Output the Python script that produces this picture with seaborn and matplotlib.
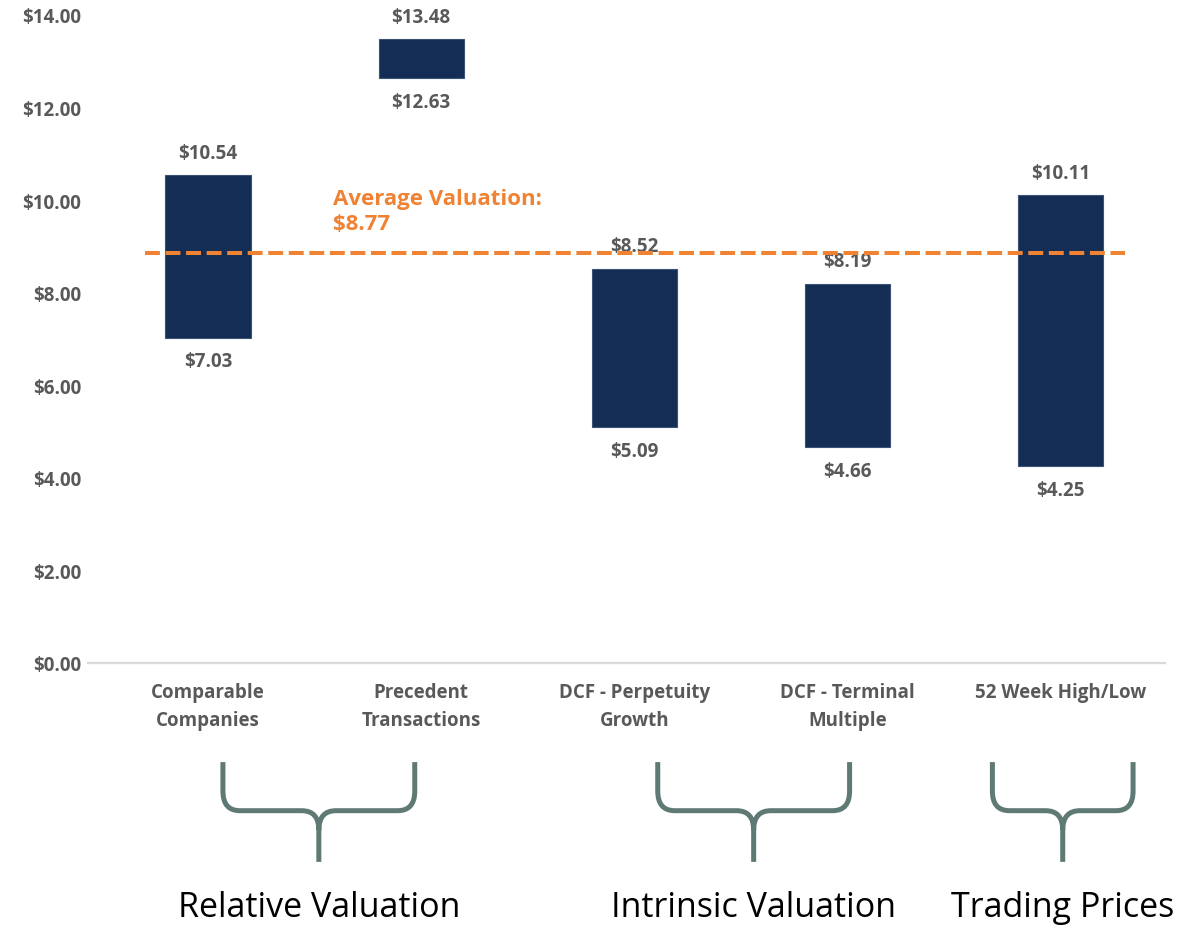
import numpy as np
import pandas as pd
import matplotlib
matplotlib.use("Agg")
import matplotlib.pyplot as plt
import seaborn as sns
from matplotlib.path import Path
from matplotlib.patches import PathPatch
from matplotlib.transforms import blended_transform_factory

# ---------------- data ----------------
categories = ["Comparable\nCompanies", "Precedent\nTransactions",
              "DCF - Perpetuity\nGrowth", "DCF - Terminal\nMultiple",
              "52 Week High/Low"]
lows  = [7.03, 12.63, 5.09, 4.66, 4.25]
highs = [10.54, 13.48, 8.52, 8.19, 10.11]

avg_label = "Average Valuation:\n$8.77"
avg_line  = 8.86

y_ticks = [0, 2, 4, 6, 8, 10, 12, 14]

group_names = ["Relative Valuation", "Intrinsic Valuation", "Trading Prices"]
group_left  = [0.07, 2.11, 3.68]    # brace extents in category units
group_right = [0.97, 3.01, 4.34]

# ---------------- style ----------------
NAVY   = "#142D55"
ORANGE = "#F08233"
GREY   = "#595959"
BRACE  = "#5F7A74"

sns.set_style("white")
plt.rcParams['font.family'] = ['Open Sans', 'DejaVu Sans']

df = pd.DataFrame({"cat": categories, "low": lows, "high": highs})
df["span"] = df["high"] - df["low"]

fig = plt.figure(figsize=(11.78, 9.29), dpi=100)
ax = fig.add_axes([0.0747, 0.2853, 0.9143, 0.6975])

sns.barplot(data=df, x="cat", y="span", bottom=df["low"].values,
            color=NAVY, saturation=1, width=0.40, ax=ax,
            edgecolor="#3B5275", linewidth=0.8)

ax.set_xlim(-0.563, 4.49)
ax.set_ylim(0, 14)
ax.set_yticks(y_ticks)
ax.set_yticklabels([f"${v:.2f}" for v in y_ticks])
ax.set_xlabel("")
ax.set_ylabel("")

for s in ["top", "right", "left"]:
    ax.spines[s].set_visible(False)
ax.spines["bottom"].set_color("#D9D9D9")
ax.spines["bottom"].set_linewidth(1.6)
ax.tick_params(axis="both", length=0, colors=GREY)
ax.tick_params(axis="y", pad=5, labelsize=13.5)
ax.tick_params(axis="x", pad=14, labelsize=13.5)
for lab in ax.get_xticklabels() + ax.get_yticklabels():
    lab.set_fontweight("bold")
    lab.set_color(GREY)
for lab in ax.get_xticklabels():
    lab.set_linespacing(1.5)

# value labels
for i, (lo, hi) in enumerate(zip(lows, highs)):
    ax.annotate(f"${hi:.2f}", (i, hi), xytext=(0, 9), textcoords="offset points",
                ha="center", va="bottom", fontsize=13.5, fontweight="bold",
                color=GREY, annotation_clip=False, zorder=2)
    ax.annotate(f"${lo:.2f}", (i, lo), xytext=(0, -10), textcoords="offset points",
                ha="center", va="top", fontsize=13.5, fontweight="bold",
                color=GREY, annotation_clip=False)

# average line
ax.plot([-0.296, 4.30], [avg_line, avg_line], color=ORANGE, lw=2.9,
        dashes=(3.7, 1.4), solid_capstyle="butt", zorder=3)
ax.text(0.587, 9.76, avg_label, color=ORANGE, fontsize=16, fontweight="bold",
        ha="left", va="center", linespacing=1.25)

# braces under the axis
trans = blended_transform_factory(ax.transData, ax.transAxes)
y_top, y_mid, y_bot = -0.153, -0.228, -0.307
for name, x0, x1 in zip(group_names, group_left, group_right):
    xc = (x0 + x1) / 2
    rx = 0.08
    ry = 0.03
    verts = [
        (x0, y_top), (x0, y_mid + ry),
        (x0, y_mid), (x0 + rx, y_mid),
        (xc - rx, y_mid),
        (xc, y_mid), (xc, y_mid - ry),
        (xc, y_bot),
        (xc, y_mid - ry), (xc, y_mid), (xc + rx, y_mid),
        (x1 - rx, y_mid),
        (x1, y_mid), (x1, y_mid + ry),
        (x1, y_top),
    ]
    codes = [Path.MOVETO, Path.LINETO,
             Path.CURVE3, Path.CURVE3,
             Path.LINETO,
             Path.CURVE3, Path.CURVE3,
             Path.LINETO,
             Path.MOVETO, Path.CURVE3, Path.CURVE3,
             Path.LINETO,
             Path.CURVE3, Path.CURVE3,
             Path.LINETO]
    patch = PathPatch(Path(verts, codes), transform=trans, facecolor="none",
                      edgecolor=BRACE, lw=3.6, clip_on=False, capstyle="butt",
                      joinstyle="round")
    ax.add_patch(patch)
    ax.text(xc, -0.376, name, transform=trans, ha="center", va="center",
            fontsize=24.5, color="black", clip_on=False)

fig.savefig("out.png", dpi=100)
